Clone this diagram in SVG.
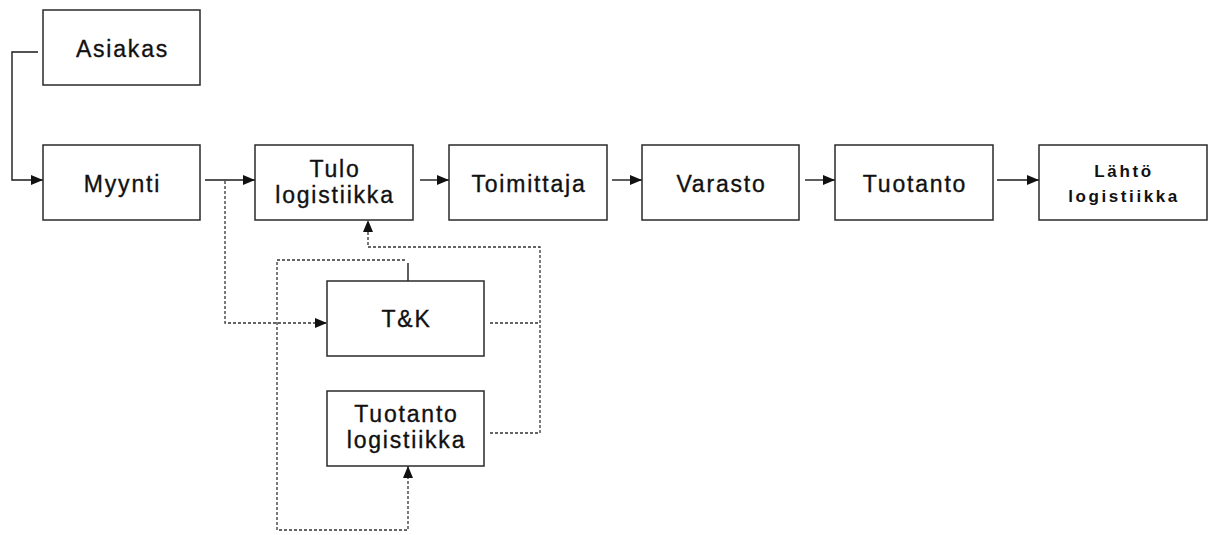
<svg xmlns="http://www.w3.org/2000/svg" width="1213" height="535" viewBox="0 0 1213 535">
  <style>
    .box { fill: #ffffff; stroke: #2a2a2a; stroke-width: 1.5; }
    .lbl { font-family: "Liberation Sans", Arial, sans-serif; font-size: 23px; letter-spacing: 1.8px; fill: #111; stroke: #111; stroke-width: 0.35; text-anchor: middle; }
    .lbl-b { font-family: "Liberation Sans", Arial, sans-serif; font-size: 17px; font-weight: bold; letter-spacing: 2.6px; fill: #111; text-anchor: middle; }
    .solid { fill: none; stroke: #1a1a1a; stroke-width: 1.4; }
    .dot { fill: none; stroke: #333; stroke-width: 1.3; stroke-dasharray: 3 2; }
  </style>
  <defs>
    <marker id="arrow" viewBox="0 0 12 10" refX="12" refY="5" markerWidth="12" markerHeight="10" markerUnits="userSpaceOnUse" orient="auto">
      <path d="M0,0 L12,5 L0,10 Z" fill="#111"/>
    </marker>
  </defs>

  <rect width="1213" height="535" fill="#ffffff"/>

  <!-- connectors -->
  <g id="connectors">
    <path class="solid" d="M38,52 H12 V180 H43" marker-end="url(#arrow)"/>
    <path class="solid" d="M205,180 H255" marker-end="url(#arrow)"/>
    <path class="solid" d="M420,180 H449" marker-end="url(#arrow)"/>
    <path class="solid" d="M612,180 H642" marker-end="url(#arrow)"/>
    <path class="solid" d="M805,180 H835" marker-end="url(#arrow)"/>
    <path class="solid" d="M997,180 H1039" marker-end="url(#arrow)"/>
    <!-- sales branch to R&D -->
    <path class="dot" d="M225,181 V323 H327" marker-end="url(#arrow)"/>
    <!-- R&D loop down to production logistics -->
    <path class="solid" d="M408,281 V263"/>
    <path class="dot" d="M405,260 H277 V530 H408 V466" marker-end="url(#arrow)"/>
    <!-- feedback to inbound logistics -->
    <path class="dot" d="M490,323 H540"/>
    <path class="dot" d="M490,433 H540 V247 H368 V220" marker-end="url(#arrow)"/>
  </g>

  <g id="asiakas">
    <rect class="box" x="43" y="10" width="157" height="75"/>
    <text class="lbl" x="122.5" y="57">Asiakas</text>
  </g>
  <g id="myynti">
    <rect class="box" x="43" y="145" width="157" height="75"/>
    <text class="lbl" x="122.5" y="192">Myynti</text>
  </g>
  <g id="tulo-logistiikka">
    <rect class="box" x="255" y="145" width="158" height="75"/>
    <text class="lbl" x="335" y="177">Tulo</text>
    <text class="lbl" x="335" y="203">logistiikka</text>
  </g>
  <g id="toimittaja">
    <rect class="box" x="449" y="145" width="158" height="75"/>
    <text class="lbl" x="529" y="192">Toimittaja</text>
  </g>
  <g id="varasto">
    <rect class="box" x="642" y="145" width="157" height="75"/>
    <text class="lbl" x="721.5" y="192">Varasto</text>
  </g>
  <g id="tuotanto">
    <rect class="box" x="835" y="145" width="158" height="75"/>
    <text class="lbl" x="915" y="192">Tuotanto</text>
  </g>
  <g id="lahto-logistiikka">
    <rect class="box" x="1039" y="145" width="168" height="75"/>
    <text class="lbl-b" x="1124" y="177">Lähtö</text>
    <text class="lbl-b" x="1124" y="202">logistiikka</text>
  </g>
  <g id="tk">
    <rect class="box" x="327" y="281" width="157" height="75"/>
    <text class="lbl" x="406.5" y="327">T&amp;K</text>
  </g>
  <g id="tuotanto-logistiikka">
    <rect class="box" x="327" y="391" width="157" height="75"/>
    <text class="lbl" x="406.5" y="422">Tuotanto</text>
    <text class="lbl" x="406.5" y="448">logistiikka</text>
  </g>
</svg>
